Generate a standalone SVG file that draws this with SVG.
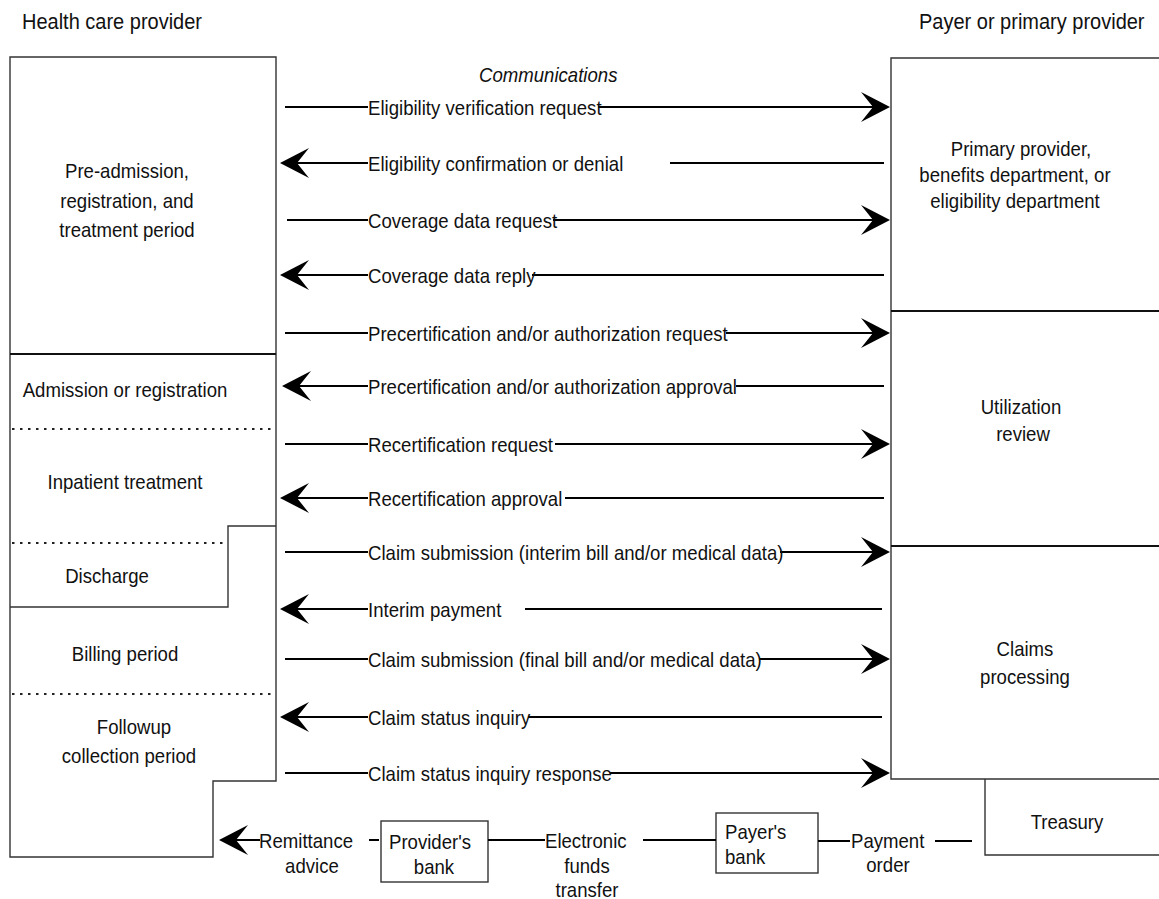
<svg xmlns="http://www.w3.org/2000/svg" width="1159" height="899" viewBox="0 0 1159 899">
  <style>
    text { font-family: "Liberation Sans", Arial, sans-serif; font-size: 18.6px; fill: #111;
           transform-box: fill-box; transform-origin: center; transform: scaleY(1.1); }
    .mid { text-anchor: middle; }
    .it { font-style: italic; }
    .hd { font-size: 20px; }
    .box { fill: none; stroke: #333; stroke-width: 1.4; }
    .sep { fill: none; stroke: #111; stroke-width: 2; }
    .dot { fill: none; stroke: #222; stroke-width: 2; stroke-dasharray: 2.5 5.5; }
    .ln { fill: none; stroke: #000; stroke-width: 2; }
    .head { fill: #000; stroke: none; }
  </style>
  <defs>
    <!-- barbed arrowhead, tip at the origin, pointing right -->
    <path id="ah" class="head" d="M0,0 L-29,-15 L-17,0 L-29,15 Z"/>
  </defs>

  <rect width="1159" height="899" fill="#fff"/>

  <!-- column headings -->
  <text x="22" y="28" class="hd">Health care provider</text>
  <text x="919" y="28" class="hd">Payer or primary provider</text>
  <text x="479" y="81" class="it">Communications</text>

  <!-- health care provider column -->
  <g id="provider">
    <path class="box" d="M10,57 H276 V781 H213 V857 H10 Z"/>
    <path class="sep" d="M10,354 H276"/>
    <path class="box" d="M276,526 H228 V607 H10"/>
    <path class="dot" d="M12,429 H272"/>
    <path class="dot" d="M12,543 H224"/>
    <path class="dot" d="M12,694 H274"/>
  </g>
  <g id="pre-admission">
    <text x="127" y="177" class="mid">Pre-admission,</text>
    <text x="127" y="207" class="mid">registration, and</text>
    <text x="127" y="236" class="mid">treatment period</text>
  </g>
  <g id="admission"><text x="125" y="396" class="mid">Admission or registration</text></g>
  <g id="inpatient"><text x="125" y="488" class="mid">Inpatient treatment</text></g>
  <g id="discharge"><text x="107" y="582" class="mid">Discharge</text></g>
  <g id="billing"><text x="125" y="660" class="mid">Billing period</text></g>
  <g id="followup">
    <text x="134" y="733" class="mid">Followup</text>
    <text x="129" y="762" class="mid">collection period</text>
  </g>

  <!-- payer column -->
  <g id="payer">
    <path class="box" d="M1159,58 H891 V779 H1159"/>
    <path class="sep" d="M891,311 H1159"/>
    <path class="sep" d="M891,546 H1159"/>
  </g>
  <g id="benefits">
    <text x="1021" y="155" class="mid">Primary provider,</text>
    <text x="1015" y="181" class="mid">benefits department, or</text>
    <text x="1015" y="207" class="mid">eligibility department</text>
  </g>
  <g id="utilization">
    <text x="1021" y="413" class="mid">Utilization</text>
    <text x="1023" y="440" class="mid">review</text>
  </g>
  <g id="claims">
    <text x="1025" y="655" class="mid">Claims</text>
    <text x="1025" y="683" class="mid">processing</text>
  </g>
  <g id="treasury">
    <path class="box" d="M985,779 V855 H1159"/>
    <text x="1067" y="828" class="mid">Treasury</text>
  </g>

  <!-- banks -->
  <g id="providers-bank">
    <rect class="box" x="381" y="821" width="107" height="61"/>
    <text x="389" y="848">Provider's</text>
    <text x="434" y="873" class="mid">bank</text>
  </g>
  <g id="payers-bank">
    <rect class="box" x="716" y="813" width="102" height="60"/>
    <text x="725" y="838">Payer's</text>
    <text x="725" y="863">bank</text>
  </g>

  <!-- message connectors -->
  <g id="connectors">
    <!-- eligibility verification request -->
    <path class="ln" d="M285,107 H368 M598,107 H876"/>
    <use href="#ah" transform="translate(890,107)"/>
    <text x="368" y="114">Eligibility verification request</text>

    <!-- eligibility confirmation or denial -->
    <path class="ln" d="M285,163 H368 M670,163 H884"/>
    <use href="#ah" transform="translate(280,163) scale(-1,1)"/>
    <text x="368" y="170">Eligibility confirmation or denial</text>

    <!-- coverage data request -->
    <path class="ln" d="M287,220 H368 M553,220 H876"/>
    <use href="#ah" transform="translate(890,220)"/>
    <text x="368" y="227">Coverage data request</text>

    <!-- coverage data reply -->
    <path class="ln" d="M285,275 H368 M532,275 H884"/>
    <use href="#ah" transform="translate(280,275) scale(-1,1)"/>
    <text x="368" y="282">Coverage data reply</text>

    <!-- precertification request -->
    <path class="ln" d="M285,333 H368 M726,333 H876"/>
    <use href="#ah" transform="translate(890,333)"/>
    <text x="368" y="340">Precertification and/or authorization request</text>

    <!-- precertification approval -->
    <path class="ln" d="M290,386 H368 M736,386 H884"/>
    <use href="#ah" transform="translate(282,386) scale(-1,1)"/>
    <text x="368" y="393">Precertification and/or authorization approval</text>

    <!-- recertification request -->
    <path class="ln" d="M285,444 H368 M555,444 H876"/>
    <use href="#ah" transform="translate(890,444)"/>
    <text x="368" y="451">Recertification request</text>

    <!-- recertification approval -->
    <path class="ln" d="M285,498 H368 M565,498 H884"/>
    <use href="#ah" transform="translate(280,498) scale(-1,1)"/>
    <text x="368" y="505">Recertification approval</text>

    <!-- interim claim submission -->
    <path class="ln" d="M285,552 H368 M780,552 H876"/>
    <use href="#ah" transform="translate(890,552)"/>
    <text x="368" y="559">Claim submission (interim bill and/or medical data)</text>

    <!-- interim payment -->
    <path class="ln" d="M285,609 H368 M525,609 H882"/>
    <use href="#ah" transform="translate(280,609) scale(-1,1)"/>
    <text x="368" y="616">Interim payment</text>

    <!-- final claim submission -->
    <path class="ln" d="M285,659 H368 M759,659 H876"/>
    <use href="#ah" transform="translate(890,659)"/>
    <text x="368" y="666">Claim submission (final bill and/or medical data)</text>

    <!-- claim status inquiry -->
    <path class="ln" d="M285,717 H368 M528,717 H882"/>
    <use href="#ah" transform="translate(280,717) scale(-1,1)"/>
    <text x="368" y="724">Claim status inquiry</text>

    <!-- claim status inquiry response -->
    <path class="ln" d="M285,773 H368 M610,773 H876"/>
    <use href="#ah" transform="translate(890,773)"/>
    <text x="368" y="780">Claim status inquiry response</text>

    <!-- payment chain: treasury to provider -->
    <path class="ln" d="M935,841 H972"/>
    <text x="851" y="847">Payment</text>
    <text x="888" y="871" class="mid">order</text>
    <path class="ln" d="M818,841 H850"/>
    <path class="ln" d="M643,840 H716"/>
    <text x="545" y="847">Electronic</text>
    <text x="587" y="872" class="mid">funds</text>
    <text x="587" y="896" class="mid">transfer</text>
    <path class="ln" d="M488,840 H545"/>
    <path class="ln" d="M369,840 H379"/>
    <path class="ln" d="M230,840 H260"/>
    <use href="#ah" transform="translate(219,840) scale(-1,1)"/>
    <text x="259" y="847">Remittance</text>
    <text x="312" y="872" class="mid">advice</text>
  </g>
</svg>
